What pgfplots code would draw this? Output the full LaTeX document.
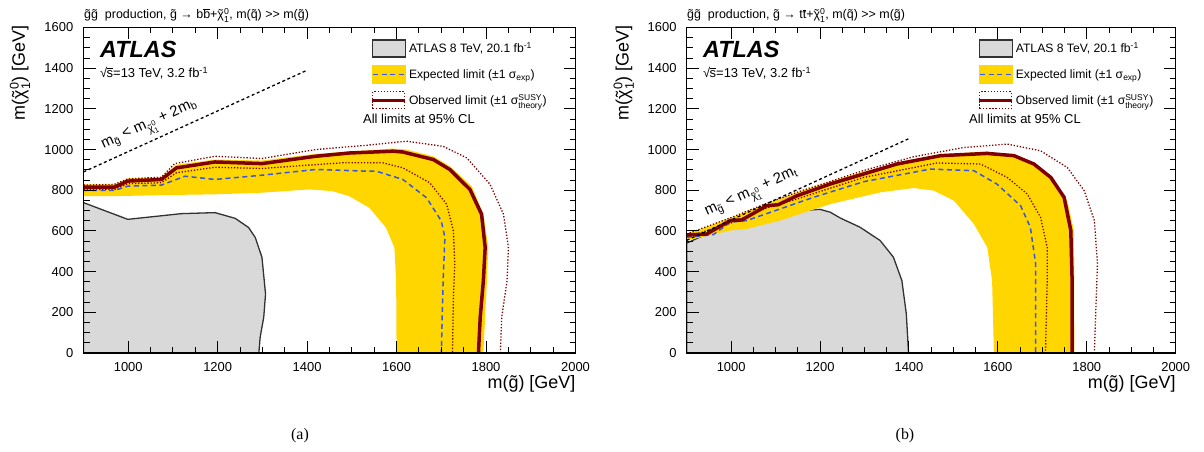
\documentclass[border=0pt]{standalone}
\usepackage{amsmath}
\usepackage{pgfplots}
\pgfplotsset{compat=1.18}
\usepackage{fontspec}
\setmainfont{Liberation Sans}
\newfontfamily\capfont{Liberation Serif}

\definecolor{bandyellow}{RGB}{255,214,0}
\definecolor{obsred}{RGB}{128,0,0}
\definecolor{expblue}{RGB}{55,85,225}
\definecolor{oldgrey}{RGB}{217,217,217}
\definecolor{oldline}{RGB}{50,50,50}

% tilde, bar and symbols in the text font
\newcommand\tl[1]{{\setbox0\hbox{#1}\rlap{\hbox to\wd0{\hss\char"02DC\hss}}\box0}}
\newcommand\ovl[1]{\vbox{\hrule height 0.45pt\kern 0.7pt\hbox{#1}}}
\newcommand\chiz{\tl{χ}$^{\text{0}}_{\text{1}}$}
\newcommand\fbinv{fb$^{\text{-1}}$}
\newcommand\sqrts{{\char"221A}\kern-0.6pt\vbox{\hrule height 0.5pt\kern 2.2pt\hbox{s}}}
\newcommand\mgt{>\kern0pt>}

\pgfplotsset{
  atlas/.style={
    scale only axis, height=325.5bp,
    xmin=900, xmax=2000, ymin=0, ymax=1600,
    xtick={1000,1200,...,2000}, ytick={0,200,...,1600},
    minor x tick num=3, minor y tick num=3,
    tick align=inside, tick pos=both,
    xticklabel pos=left, yticklabel pos=left,
    major tick length=12bp, minor tick length=6bp,
    every tick/.append style={black, line width=1bp},
    axis line style={line width=1.2bp},
    axis on top,
    tick label style={font=\fontsize{13}{15}\selectfont, inner sep=0pt},
    yticklabel style={xshift=-10bp},
    xticklabel style={yshift=-9.5bp},
    /pgf/number format/1000 sep={},
    /pgf/number format/assume math mode=true,
    xlabel={m(\tl{g}) [GeV]},
    ylabel={m(\chiz) [GeV]},
    xlabel style={font=\fontsize{18}{20}\selectfont, at={(rel axis cs:1,-0.095)}, anchor=east, inner sep=0pt},
    ylabel style={font=\fontsize{18}{20}\selectfont, at={(rel axis cs:-0.129,1.007)}, anchor=east, inner sep=0pt},
    legend cell align=left,
    legend style={draw=none, fill=none, inner sep=0pt, row sep=0pt,
      font=\fontsize{12.2}{14}\selectfont, anchor=north west,
      cells={anchor=base west, inner sep=0pt}},
  },
  imgold/.style={legend image code/.code={
    \draw[fill=oldgrey, draw=oldline, line width=1.2bp] (0bp,-4.3bp) rectangle (33bp,12.7bp);
    \path (0bp,-8.55bp) (32bp,16.95bp);}},
  imgexp/.style={legend image code/.code={
    \fill[bandyellow] (0bp,-4.8bp) rectangle (33bp,13.2bp);
    \draw[expblue, line width=1.5bp, dash pattern=on 5bp off 3.5bp] (1bp,4.2bp) -- (33bp,4.2bp);
    \path (0bp,-8.55bp) (32bp,16.95bp);}},
  imgobs/.style={legend image code/.code={
    \draw[obsred, line width=1.2bp, dash pattern=on 1.3bp off 1.8bp] (0.6bp,-4.3bp) rectangle (32.4bp,12.7bp);
    \draw[obsred, line width=3.5bp] (0bp,4.2bp) -- (33bp,4.2bp);
    \path (0bp,-8.55bp) (32bp,16.95bp);}},
  obsline/.style={obsred, line width=3.5bp},
  obsband/.style={obsred, line width=1.3bp, dash pattern=on 1.3bp off 1.8bp},
  expline/.style={expblue, line width=1.5bp, dash pattern=on 5bp off 3.5bp},
  kinline/.style={black, line width=1.3bp, dash pattern=on 3bp off 2.6bp},
}

\begin{document}
\begin{tikzpicture}
\path[use as bounding box] (0bp,0bp) rectangle (1204bp,452bp);

% ---------------- (a) b-bbar ----------------
\begin{axis}[atlas, width=492bp, at={(83.5bp,99bp)}, anchor=south west,
  legend style={at={(rel axis cs:0.583,0.976)}}]
\addlegendimage{imgold}\addlegendentry{ATLAS 8 TeV, 20.1 \fbinv}
\addlegendimage{imgexp}\addlegendentry{Expected limit (±1 σ$_{\text{exp}}$)}
\addlegendimage{imgobs}\addlegendentry{Observed limit (±1 σ$^{\text{SUSY}}_{\text{theory}}$)}

\addplot[fill=oldgrey, draw=oldline, line width=1.3bp, forget plot] coordinates {
 (900,0) (900,739) (999,657) (1119,685) (1194,690) (1239,662) (1269,617) (1284,568)
 (1299,470) (1307,290) (1303,176) (1295,78) (1292,0)} --cycle;
\addplot[fill=bandyellow, draw=none, forget plot] coordinates {
 (900,829) (969,829) (999,858) (1074,864) (1108,926) (1194,951) (1299,946) (1419,979)
 (1592,1005) (1622,1000) (1682,967) (1719,918) (1768,820) (1794,682) (1805,519)
 (1802,356) (1794,0) (1600,0) (1599,356) (1595,519) (1576,617) (1539,714) (1494,771)
 (1456,796) (1404,804) (1299,788) (1194,780) (1074,776) (969,771) (900,771)} --cycle;
\addplot[obsband, forget plot] coordinates {
 (900,825) (969,829) (999,856) (1074,864) (1104,931) (1194,967) (1299,956) (1419,1000)
 (1532,1021) (1622,1041) (1704,1016) (1757,959) (1809,829) (1839,682) (1850,519)
 (1847,356) (1835,176) (1832,0)};
\addplot[obsband, forget plot] coordinates {
 (900,804) (969,804) (999,832) (1074,837) (1108,886) (1194,913) (1299,907) (1419,926)
 (1479,935) (1569,935) (1614,910) (1674,837) (1712,731) (1727,600) (1730,437)
 (1727,274) (1725,0)};
\addplot[expline, forget plot] coordinates {
 (900,799) (969,799) (999,820) (1074,825) (1127,869) (1194,853) (1299,874) (1419,902)
 (1532,894) (1554,894) (1614,853) (1667,763) (1700,649) (1708,568) (1704,356) (1700,0)};
\addplot[obsline, forget plot] coordinates {
 (900,815) (969,815) (999,845) (1074,853) (1108,910) (1194,939) (1299,931) (1419,967)
 (1494,983) (1592,992) (1614,988) (1682,951) (1719,902) (1764,804) (1790,682)
 (1798,519) (1794,356) (1787,176) (1783,0)};
\addplot[kinline, forget plot] coordinates {(900,890) (1400,1390)};
\end{axis}

\node[anchor=base west, inner sep=0pt, font=\fontsize{12.5}{14}\selectfont] at (84bp,433bp)
 {\tl{g}\tl{g}\ \ production, \tl{g} → b\ovl{b}+\chiz, m(\tl{q}) \mgt{} m(\tl{g})};
\node[anchor=base west, inner sep=0pt, font=\fontsize{23.5}{25}\selectfont\bfseries\itshape] at (100bp,394bp) {ATLAS};
\node[anchor=base west, inner sep=0pt, font=\fontsize{13}{15}\selectfont] at (100bp,374bp) {\sqrts=13 TeV, 3.2 \fbinv};
\node[anchor=west, inner sep=0pt, font=\fontsize{13}{15}\selectfont] at (363bp,333bp) {All limits at 95\% CL};
\node[rotate=24.4, inner sep=0pt, font=\fontsize{15}{17}\selectfont] at (150bp,326bp)
 {m$_{\text{\tl{g}}}$ < m$_{\text{\tl{χ}}^{\text{0}}_{\text{1}}}$ + 2m$_{\text{b}}$};
\node[font=\capfont\fontsize{16}{18}\selectfont] at (300bp,16bp) {(a)};

% ---------------- (b) t-tbar ----------------
\begin{axis}[atlas, width=489bp, at={(686.7bp,99bp)}, anchor=south west,
  legend style={at={(rel axis cs:0.594,0.976)}}]
\addlegendimage{imgold}\addlegendentry{ATLAS 8 TeV, 20.1 \fbinv}
\addlegendimage{imgexp}\addlegendentry{Expected limit (±1 σ$_{\text{exp}}$)}
\addlegendimage{imgobs}\addlegendentry{Observed limit (±1 σ$^{\text{SUSY}}_{\text{theory}}$)}

\addplot[fill=oldgrey, draw=oldline, line width=1.3bp, forget plot] coordinates {
 (900,0) (900,540) (945,585) (998,634) (1035,643) (1095,664) (1155,700) (1200,706)
 (1223,692) (1245,664) (1290,618) (1335,553) (1365,471) (1384,356) (1394,193)
 (1397,78) (1399,0)} --cycle;
\addplot[fill=bandyellow, draw=none, forget plot] coordinates {
 (900,585) (998,664) (1148,790) (1298,893) (1471,975) (1576,991) (1658,953) (1711,880)
 (1756,749) (1771,602) (1772,0) (1591,0) (1587,356) (1576,520) (1546,634) (1501,749)
 (1456,798) (1411,811) (1336,790) (1223,732) (1110,651) (1035,610) (998,602) (900,553)} --cycle;
\addplot[obsband, forget plot] coordinates {
 (900,585) (998,664) (1080,736) (1148,790) (1298,897) (1411,965) (1523,1010) (1621,1027)
 (1696,994) (1756,912) (1794,798) (1817,651) (1824,438) (1820,193) (1817,0)};
\addplot[obsband, forget plot] coordinates {
 (900,569) (998,638) (1080,713) (1148,757) (1298,863) (1463,934) (1561,929) (1621,863)
 (1666,782) (1696,667) (1711,520) (1711,356) (1707,0)};
\addplot[expline, forget plot] coordinates {
 (900,569) (960,582) (998,643) (1035,651) (1110,708) (1185,765) (1298,842) (1448,904)
 (1546,896) (1598,830) (1651,724) (1673,618) (1685,438) (1685,0)};
\addplot[obsline, forget plot] coordinates {
 (900,580) (945,585) (998,651) (1024,654) (1080,724) (1106,729) (1148,773) (1223,831)
 (1298,880) (1373,929) (1471,970) (1576,981) (1636,970) (1681,929) (1719,863)
 (1749,765) (1764,602) (1767,356) (1767,0)};
\addplot[kinline, forget plot] coordinates {(900,554) (1400,1054)};
\end{axis}

\node[anchor=base west, inner sep=0pt, font=\fontsize{12.5}{14}\selectfont] at (687bp,433bp)
 {\tl{g}\tl{g}\ \ production, \tl{g} → t\ovl{t}+\chiz, m(\tl{q}) \mgt{} m(\tl{g})};
\node[anchor=base west, inner sep=0pt, font=\fontsize{23.5}{25}\selectfont\bfseries\itshape] at (703bp,394bp) {ATLAS};
\node[anchor=base west, inner sep=0pt, font=\fontsize{13}{15}\selectfont] at (703bp,374bp) {\sqrts=13 TeV, 3.2 \fbinv};
\node[anchor=west, inner sep=0pt, font=\fontsize{13}{15}\selectfont] at (969bp,333bp) {All limits at 95\% CL};
\node[rotate=24.6, inner sep=0pt, font=\fontsize{15}{17}\selectfont] at (752bp,258bp)
 {m$_{\text{\tl{g}}}$ < m$_{\text{\tl{χ}}^{\text{0}}_{\text{1}}}$ + 2m$_{\text{t}}$};
\node[font=\capfont\fontsize{16}{18}\selectfont] at (905bp,16bp) {(b)};
\end{tikzpicture}
\end{document}
